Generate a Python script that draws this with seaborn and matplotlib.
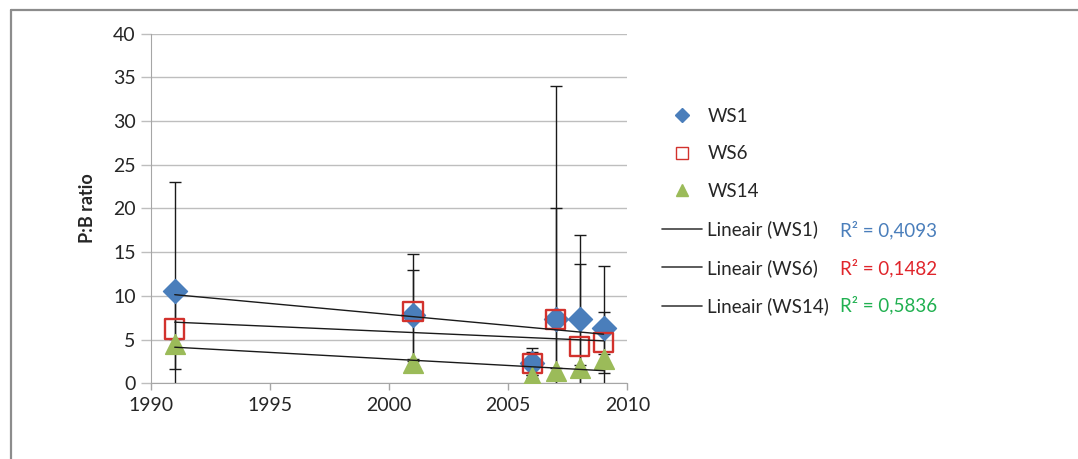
import numpy as np
import pandas as pd
import matplotlib
matplotlib.use("Agg")
import matplotlib.pyplot as plt
from matplotlib.lines import Line2D
import seaborn as sns

# data
years = [1991, 2001, 2006, 2007, 2008, 2009]
ws1 = [10.5, 7.8, 2.3, 7.4, 7.4, 6.3]
ws6 = [6.2, 8.2, 2.3, 7.3, 4.2, 4.7]
ws14 = [4.5, 2.3, 0.7, 1.4, 1.7, 2.8]
err_ws1 = [12.5, 5.2, 1.7, 26.6, 9.6, 7.1]
err_ws6 = [4.6, 6.6, 1.3, 12.7, 9.4, 3.5]
err_ws14 = [0.6, 0.5, 0.3, 0.4, 0.4, 0.5]
r2_labels = ["R² = 0,4093", "R² = 0,1482", "R² = 0,5836"]

sns.set_style("white")
plt.rcParams['font.family'] = ['Lato', 'DejaVu Sans']

series = {"WS1": (ws1, err_ws1), "WS6": (ws6, err_ws6), "WS14": (ws14, err_ws14)}
rows = []
for name, (vals, errs) in series.items():
    for y, v, e in zip(years, vals, errs):
        rows.append({"year": y, "ratio": v, "err": e, "series": name})
df = pd.DataFrame(rows)

fig = plt.figure(figsize=(10.78, 4.59), dpi=100)
ax = fig.add_axes([0.140, 0.165, 0.442, 0.762])

# error bars
for name in series:
    d = df[df.series == name]
    ax.errorbar(d.year, d.ratio, yerr=d.err, fmt='none', ecolor='#1a1a1a',
                elinewidth=1, capsize=4, capthick=1, zorder=2)

# markers
styles = {
    "WS1": dict(marker='D', s=150, color='#4A7EBB', edgecolor='#4A7EBB'),
    "WS6": dict(marker='s', s=190, facecolor='none', edgecolor='#D2322D', linewidth=1.7),
    "WS14": dict(marker='^', s=200, color='#9BBB59', edgecolor='#9BBB59'),
}
for name in series:
    d = df[df.series == name]
    sns.scatterplot(data=d, x="year", y="ratio", ax=ax, zorder=3, legend=False, **styles[name])

# linear trend lines
for name in series:
    d = df[df.series == name]
    sns.regplot(data=d, x="year", y="ratio", ax=ax, scatter=False, ci=None,
                line_kws=dict(color='#1a1a1a', linewidth=1, zorder=4), truncate=True)

ax.set_xlim(1990, 2010)
ax.set_ylim(0, 40)
ax.set_xticks(range(1990, 2011, 5))
ax.set_yticks(range(0, 41, 5))
ax.yaxis.grid(True, color='#BEBEBE', linewidth=1)
ax.set_axisbelow(True)
for s in ['top', 'right']:
    ax.spines[s].set_visible(False)
for s in ['left', 'bottom']:
    ax.spines[s].set_color('#A6A6A6')
ax.tick_params(axis='both', labelsize=14, length=5, width=1,
               direction='out', bottom=True, left=True, labelcolor='#262626')
ax.tick_params(axis='y', color='#BEBEBE', length=7, pad=4)
ax.tick_params(axis='x', color='#A6A6A6', pad=5)
ax.set_xlabel("")
ax.set_ylabel("P:B ratio", fontsize=13, fontweight='bold', labelpad=12)

handles = [
    Line2D([], [], marker='D', linestyle='none', color='#4A7EBB', markersize=7),
    Line2D([], [], marker='s', linestyle='none', markerfacecolor='none',
           markeredgecolor='#D2322D', markersize=8),
    Line2D([], [], marker='^', linestyle='none', color='#9BBB59', markersize=8),
    Line2D([], [], color='#404040', linewidth=1.2),
    Line2D([], [], color='#404040', linewidth=1.2),
    Line2D([], [], color='#404040', linewidth=1.2),
]
labels = ["WS1", "WS6", "WS14", "Lineair (WS1)", "Lineair (WS6)", "Lineair (WS14)"]
leg = fig.legend(handles, labels, loc='upper left', bbox_to_anchor=(0.6075, 0.782),
                 frameon=False, fontsize=13.5, handlelength=2.1, handletextpad=0.3,
                 labelspacing=1.1, borderaxespad=0)
for t in leg.get_texts():
    t.set_color('#262626')

r2_colors = ['#4A7EBB', '#E0252B', '#20B050']
r2_y = [230, 268, 305]
for lab, c, yp in zip(r2_labels, r2_colors, r2_y):
    fig.text(840 / 1078, 1 - yp / 459, lab, color=c, fontsize=13.5, va='center', ha='left')

# outer chart frame
fig.add_artist(Line2D([11 / 1078, 1], [1 - 10 / 459, 1 - 10 / 459], color='#8C8C8C', linewidth=1.6))
fig.add_artist(Line2D([11 / 1078, 11 / 1078], [0, 1 - 10 / 459], color='#8C8C8C', linewidth=1.6))

fig.savefig("out.png", dpi=100)
